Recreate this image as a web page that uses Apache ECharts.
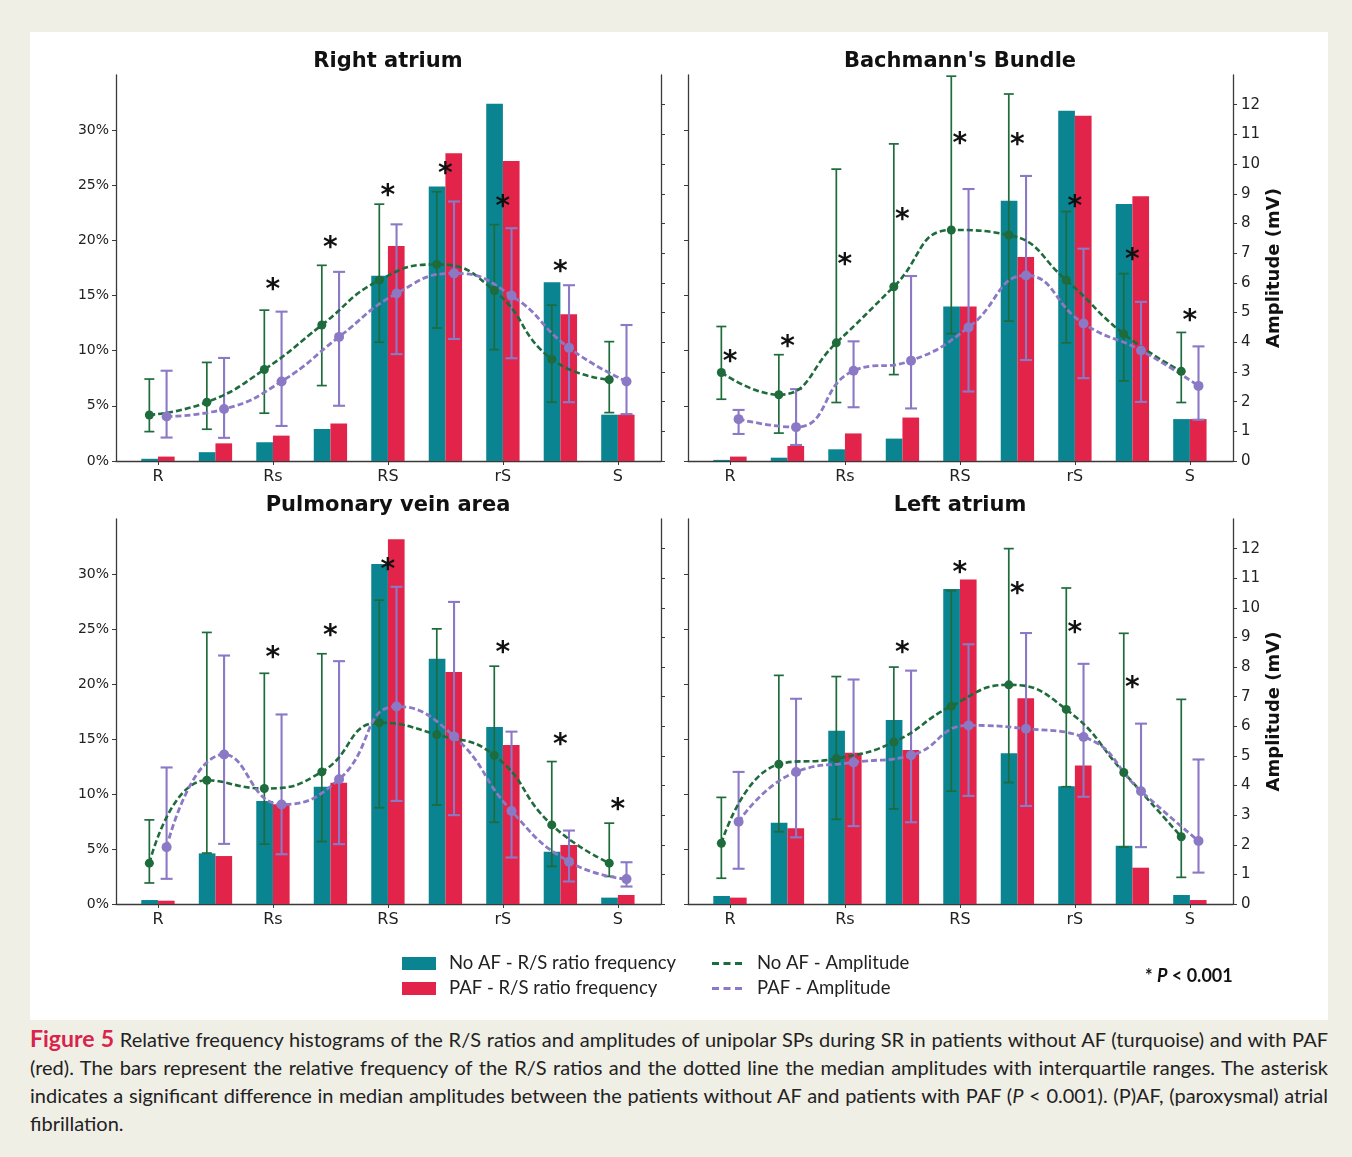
<!DOCTYPE html>
<html><head><meta charset="utf-8">
<script src="https://cdn.jsdelivr.net/npm/echarts@6/dist/echarts.min.js"></script>
<style>
html,body{margin:0;padding:0;background:#f0efe6;width:1352px;height:1157px;overflow:hidden}
#chart{position:absolute;left:30px;top:32px;width:1298px;height:988px;background:#fff}
#cap{position:absolute;left:30px;top:1024px;width:1298px;font-family:Lato,'Open Sans',sans-serif;font-size:20px;color:#222;line-height:28px}
.ln{white-space:nowrap;text-align:justify;text-align-last:justify}
.ln.last{text-align-last:left}
.fig{color:#d9234b;font-weight:bold;font-size:23px}
</style></head><body>
<div id="chart"></div>
<div id="cap">
<div class="ln"><span class="fig">Figure 5</span> Relative frequency histograms of the R/S ratios and amplitudes of unipolar SPs during SR in patients without AF (turquoise) and with PAF</div>
<div class="ln">(red). The bars represent the relative frequency of the R/S ratios and the dotted line the median amplitudes with interquartile ranges. The asterisk</div>
<div class="ln">indicates a significant difference in median amplitudes between the patients without AF and patients with PAF (<i>P</i> &lt; 0.001). (P)AF, (paroxysmal) atrial</div>
<div class="ln last">fibrillation.</div>
</div>
<script>
// ---------- data ----------
const categories = ['R', '', 'Rs', '', 'RS', '', 'rS', '', 'S'];
const labelPositions = [0, 2, 4, 6, 8];
const pctTicks = [0, 5, 10, 15, 20, 25, 30];
const ampTicks = [0, 1, 2, 3, 4, 5, 6, 7, 8, 9, 10, 11, 12];
const panelTitles = ['Right atrium', "Bachmann's Bundle", 'Pulmonary vein area', 'Left atrium'];

// Right atrium
const raNoAFFreq = [0.2, 0.8, 1.7, 2.9, 16.8, 24.9, 32.4, 16.2, 4.2];
const raPAFFreq  = [0.4, 1.6, 2.3, 3.4, 19.5, 27.9, 27.2, 13.3, 4.2];
const raNoAFAmp  = [1.55, 1.98, 3.08, 4.58, 6.09, 6.62, 5.74, 3.43, 2.74];
const raNoAFQ1   = [0.99, 1.07, 1.61, 2.54, 4.00, 4.48, 3.75, 1.98, 1.63];
const raNoAFQ3   = [2.76, 3.32, 5.08, 6.59, 8.65, 9.07, 7.96, 5.25, 4.02];
const raPAFAmp   = [1.50, 1.75, 2.68, 4.18, 5.64, 6.32, 5.57, 3.81, 2.68];
const raPAFQ1    = [0.79, 0.78, 1.18, 1.86, 3.60, 4.11, 3.46, 1.98, 1.58];
const raPAFQ3    = [3.04, 3.47, 5.03, 6.37, 7.97, 8.74, 7.84, 5.92, 4.58];
const raStars    = [null, null, 5.95, 7.36, 9.10, 9.83, 8.74, 6.53, null];

// Bachmann's Bundle
const bbNoAFFreq = [0.1, 0.3, 1.06, 2.03, 14.0, 23.6, 31.75, 23.3, 3.8];
const bbPAFFreq  = [0.4, 1.36, 2.5, 3.94, 14.0, 18.5, 31.3, 24.0, 3.8];
const bbNoAFAmp  = [2.98, 2.23, 3.98, 5.87, 7.78, 7.61, 6.09, 4.28, 3.02];
const bbNoAFQ1   = [2.08, 0.94, 1.97, 2.91, 4.29, 4.71, 3.98, 2.70, 1.97];
const bbNoAFQ3   = [4.53, 3.58, 9.83, 10.68, 12.96, 12.36, 8.40, 6.31, 4.33];
const bbPAFAmp   = [1.41, 1.14, 3.04, 3.38, 4.50, 6.25, 4.63, 3.72, 2.53];
const bbPAFQ1    = [0.91, 0.54, 1.81, 1.77, 2.34, 3.40, 2.79, 1.99, 1.39];
const bbPAFQ3    = [1.72, 2.42, 4.03, 6.23, 9.16, 9.60, 7.15, 5.36, 3.86];
const bbStars    = [3.52, 4.03, 6.79, 8.29, 10.84, 10.81, 8.74, 6.96, 4.88];

// Pulmonary vein area
const pvNoAFFreq = [0.36, 4.6, 9.36, 10.67, 30.9, 22.3, 16.1, 4.76, 0.58];
const pvPAFFreq  = [0.3, 4.36, 9.06, 11.03, 33.15, 21.1, 14.45, 5.36, 0.82];
const pvNoAFAmp  = [1.38, 4.18, 3.90, 4.46, 6.12, 5.72, 5.02, 2.67, 1.38];
const pvNoAFQ1   = [0.71, 1.72, 2.02, 2.11, 3.25, 3.34, 2.76, 1.27, 0.93];
const pvNoAFQ3   = [2.84, 9.17, 7.79, 8.45, 10.26, 9.29, 8.03, 4.81, 2.73];
const pvPAFAmp   = [1.92, 5.05, 3.36, 4.21, 6.67, 5.66, 3.14, 1.43, 0.84];
const pvPAFQ1    = [0.85, 2.03, 1.68, 2.02, 3.48, 3.00, 1.57, 0.76, 0.59];
const pvPAFQ3    = [4.61, 8.39, 6.40, 8.20, 10.71, 10.20, 5.82, 2.48, 1.41];
const pvStars    = [null, null, 8.47, 9.23, 11.47, null, 8.67, 5.55, 3.34];

// Left atrium
const laNoAFFreq = [0.73, 7.39, 15.76, 16.73, 28.64, 13.7, 10.7, 5.3, 0.82];
const laPAFFreq  = [0.58, 6.88, 13.76, 14.0, 29.5, 18.7, 12.6, 3.3, 0.36];
const laNoAFAmp  = [2.05, 4.72, 4.91, 5.47, 6.68, 7.40, 6.57, 4.44, 2.27];
const laNoAFQ1   = [0.87, 2.44, 2.86, 3.21, 3.81, 4.10, 3.96, 1.92, 0.90];
const laNoAFQ3   = [3.60, 7.72, 7.68, 8.00, 10.58, 12.00, 10.67, 9.14, 6.91];
const laPAFAmp   = [2.78, 4.46, 4.78, 5.02, 6.03, 5.92, 5.64, 3.81, 2.13];
const laPAFQ1    = [1.19, 2.25, 2.63, 2.76, 3.65, 3.31, 3.62, 1.92, 1.06];
const laPAFQ3    = [4.46, 6.93, 7.58, 7.88, 8.77, 9.15, 8.11, 6.09, 4.88];
const laStars    = [null, null, null, 8.67, 11.34, 10.63, 9.32, 7.48, null];

// ---------- styling ----------
const TEAL = '#0a8491', RED = '#e2244a', GREEN = '#1e6b3c', PURPLE = '#8b79c5';
const BAR_W = 0.29, OFF = 0.15;
const FONT = '"DejaVu Sans", sans-serif';
const AXIS_COLOR = '#3a3a3a';

const panels = [
  {noF: raNoAFFreq, pF: raPAFFreq, noA: raNoAFAmp, noQ1: raNoAFQ1, noQ3: raNoAFQ3, pA: raPAFAmp, pQ1: raPAFQ1, pQ3: raPAFQ3, stars: raStars},
  {noF: bbNoAFFreq, pF: bbPAFFreq, noA: bbNoAFAmp, noQ1: bbNoAFQ1, noQ3: bbNoAFQ3, pA: bbPAFAmp, pQ1: bbPAFQ1, pQ3: bbPAFQ3, stars: bbStars},
  {noF: pvNoAFFreq, pF: pvPAFFreq, noA: pvNoAFAmp, noQ1: pvNoAFQ1, noQ3: pvNoAFQ3, pA: pvPAFAmp, pQ1: pvPAFQ1, pQ3: pvPAFQ3, stars: pvStars},
  {noF: laNoAFFreq, pF: laPAFFreq, noA: laNoAFAmp, noQ1: laNoAFQ1, noQ3: laNoAFQ3, pA: laPAFAmp, pQ1: laPAFQ1, pQ3: laPAFQ3, stars: laStars}
];

const grids = [
  {left: 86, top: 43, width: 545, height: 386},
  {left: 658, top: 43, width: 545, height: 386},
  {left: 86, top: 487, width: 545, height: 385},
  {left: 658, top: 487, width: 545, height: 385}
];

function barRender(offset) {
  return function (params, api) {
    const x = api.value(0), v = api.value(1);
    const p0 = api.coord([x + offset, v]);
    const p1 = api.coord([x + offset + BAR_W, 0]);
    return {type: 'rect', shape: {x: p0[0], y: p0[1], width: p1[0] - p0[0], height: p1[1] - p0[1]},
      style: {fill: api.visual('color')}};
  };
}
function errRender(cap, lw) {
  return function (params, api) {
    const x = api.value(0);
    const lo = api.coord([x, api.value(1)]);
    const hi = api.coord([x, api.value(2)]);
    const c = api.visual('color');
    const st = {stroke: c, lineWidth: lw};
    return {type: 'group', children: [
      {type: 'line', shape: {x1: lo[0], y1: lo[1], x2: hi[0], y2: hi[1]}, style: st},
      {type: 'line', shape: {x1: lo[0] - cap, y1: lo[1], x2: lo[0] + cap, y2: lo[1]}, style: st},
      {type: 'line', shape: {x1: hi[0] - cap, y1: hi[1], x2: hi[0] + cap, y2: hi[1]}, style: st}
    ]};
  };
}
function starRender(params, api) {
  const p = api.coord([api.value(0), api.value(1)]);
  return {type: 'text', x: p[0], y: p[1] + 6,
    style: {text: '*', font: 'bold 28px ' + FONT, fill: '#111', align: 'center', verticalAlign: 'middle'}};
}

const xAxes = [], yAxes = [], series = [];
panels.forEach((pn, i) => {
  const isLeft = (i % 2 === 0);
  xAxes.push({
    type: 'value', gridIndex: i, min: -0.73, max: 8.75,
    axisLine: {show: true, onZero: false, lineStyle: {color: AXIS_COLOR, width: 1.3}},
    axisTick: {show: true, customValues: labelPositions, length: 4, lineStyle: {color: AXIS_COLOR}},
    axisLabel: {show: true, customValues: labelPositions, formatter: v => categories[Math.round(v)],
      fontFamily: FONT, fontSize: 16, color: '#222', margin: 8},
    splitLine: {show: false}
  });
  yAxes.push({
    type: 'value', gridIndex: i, position: 'left', min: 0, max: 35,
    axisLine: {show: true, onZero: false, lineStyle: {color: AXIS_COLOR, width: 1.3}},
    axisTick: {show: true, customValues: pctTicks, length: 4, lineStyle: {color: AXIS_COLOR}},
    axisLabel: {show: isLeft, customValues: pctTicks, formatter: '{value}%', fontFamily: FONT, fontSize: 14, color: '#222', margin: 7},
    splitLine: {show: false}
  });
  yAxes.push({
    type: 'value', gridIndex: i, position: 'right', min: 0, max: 13,
    axisLine: {show: true, onZero: false, lineStyle: {color: AXIS_COLOR, width: 1.3}},
    axisTick: {show: true, customValues: ampTicks, length: 4, lineStyle: {color: AXIS_COLOR}},
    axisLabel: {show: !isLeft, customValues: ampTicks, fontFamily: FONT, fontSize: 15, color: '#222', margin: 8},
    name: isLeft ? '' : 'Amplitude (mV)', nameLocation: 'middle', nameRotate: 90, nameGap: 32,
    nameTextStyle: {fontFamily: FONT, fontSize: 18, fontWeight: 'bold', color: '#111'},
    splitLine: {show: false}
  });
  const pa = 2 * i, aa = 2 * i + 1;
  series.push({
    type: 'custom', name: 'No AF - R/S ratio frequency', xAxisIndex: i, yAxisIndex: pa, z: 1,
    itemStyle: {color: TEAL}, renderItem: barRender(-BAR_W), encode: {x: 0, y: 1},
    data: categories.map((c, k) => [k, pn.noF[k]])
  });
  series.push({
    type: 'custom', name: 'PAF - R/S ratio frequency', xAxisIndex: i, yAxisIndex: pa, z: 1,
    itemStyle: {color: RED}, renderItem: barRender(0), encode: {x: 0, y: 1},
    data: categories.map((c, k) => [k, pn.pF[k]])
  });
  series.push({
    type: 'custom', name: 'noaf-iqr', xAxisIndex: i, yAxisIndex: aa, z: 3,
    itemStyle: {color: GREEN}, renderItem: errRender(5, 1.7), encode: {x: 0, y: [1, 2]},
    data: categories.map((c, k) => [k - OFF, pn.noQ1[k], pn.noQ3[k]])
  });
  series.push({
    type: 'custom', name: 'paf-iqr', xAxisIndex: i, yAxisIndex: aa, z: 3,
    itemStyle: {color: PURPLE}, renderItem: errRender(6, 2.1), encode: {x: 0, y: [1, 2]},
    data: categories.map((c, k) => [k + OFF, pn.pQ1[k], pn.pQ3[k]])
  });
  series.push({
    type: 'line', name: 'No AF - Amplitude', xAxisIndex: i, yAxisIndex: aa, z: 4,
    smooth: 0.5, symbol: 'circle', symbolSize: 9, showSymbol: true,
    itemStyle: {color: GREEN}, lineStyle: {color: GREEN, width: 2.6, type: [6, 3]},
    data: categories.map((c, k) => [k - OFF, pn.noA[k]])
  });
  series.push({
    type: 'line', name: 'PAF - Amplitude', xAxisIndex: i, yAxisIndex: aa, z: 4,
    smooth: 0.5, symbol: 'circle', symbolSize: 10, showSymbol: true,
    itemStyle: {color: PURPLE}, lineStyle: {color: PURPLE, width: 2.8, type: [6, 3]},
    data: categories.map((c, k) => [k + OFF, pn.pA[k]])
  });
  series.push({
    type: 'custom', name: 'stars', xAxisIndex: i, yAxisIndex: aa, z: 5,
    renderItem: starRender, encode: {x: 0, y: 1},
    data: categories.map((c, k) => [k, pn.stars[k]]).filter(d => d[1] !== null)
  });
});

const titleCenters = [[358, 30], [930, 30], [358, 474], [930, 474]];
const graphics = panelTitles.map((t, i) => ({
  type: 'text', x: titleCenters[i][0], y: titleCenters[i][1],
  style: {text: t, font: 'bold 21px ' + FONT, fill: '#111', align: 'center', verticalAlign: 'middle'}
}));
graphics.push({
  type: 'text', x: 1115, y: 944,
  style: {text: '{a|* }{b|P}{a| < 0.001}', verticalAlign: 'middle', align: 'left',
    rich: {a: {font: 'bold 18px Lato, sans-serif', fill: '#111'}, b: {font: 'italic bold 18px Lato, sans-serif', fill: '#111'}}}
});

const legendText = {fontFamily: 'Lato, sans-serif', fontSize: 18.5, color: '#222', lineHeight: 18};
const option = {
  animation: false,
  grid: grids,
  xAxis: xAxes,
  yAxis: yAxes,
  series: series,
  graphic: graphics,
  legend: [
    {left: 367, top: 917, orient: 'vertical', itemWidth: 34, itemHeight: 13, itemGap: 6, icon: 'rect',
      selectedMode: false, data: ['No AF - R/S ratio frequency', 'PAF - R/S ratio frequency'],
      textStyle: Object.assign({padding: [0, 0, 0, 8]}, legendText)},
    {left: 677, top: 917, orient: 'vertical', itemWidth: 30, itemHeight: 13, itemGap: 6, symbolKeepAspect: false,
      icon: 'path://M0,5h7v3h-7z M11.5,5h7v3h-7z M23,5h7v3h-7z M0,0h0.01v13h-0.01z',
      selectedMode: false, data: ['No AF - Amplitude', 'PAF - Amplitude'],
      textStyle: Object.assign({padding: [0, 0, 0, 10]}, legendText)}
  ]
};
const chart = echarts.init(document.getElementById('chart'), null, {renderer: 'canvas'});
chart.setOption(option);
</script>
</body></html>
